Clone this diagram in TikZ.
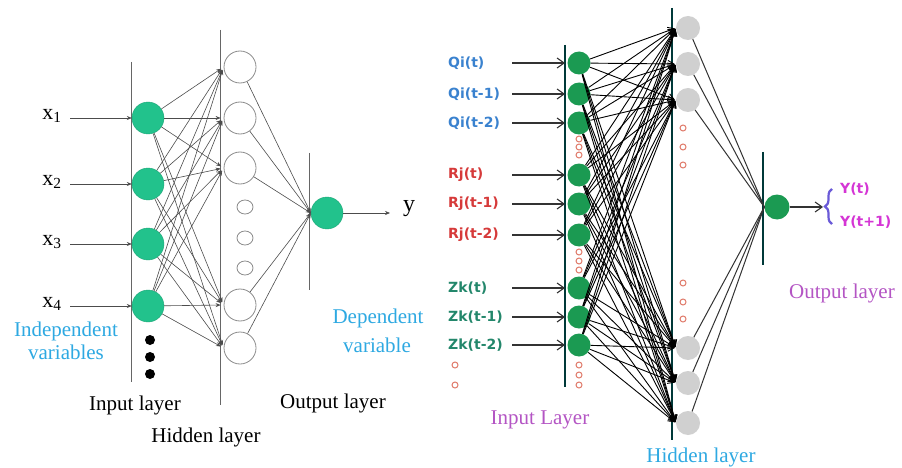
\documentclass[tikz,border=0pt]{standalone}
\usepackage{fontspec}
\setmainfont{Liberation Serif}
\newfontfamily\lblfont{DejaVu Sans}
\usetikzlibrary{arrows.meta,decorations.pathreplacing,shapes.geometric}
\definecolor{gL}{HTML}{22C28C}
\definecolor{gR}{HTML}{1B9A52}
\definecolor{hidR}{HTML}{D0D0D0}
\definecolor{cyanT}{HTML}{2EA9E2}
\definecolor{purT}{HTML}{B455C4}
\definecolor{blueT}{HTML}{3A82CF}
\definecolor{redT}{HTML}{D63A3A}
\definecolor{tealT}{HTML}{23876B}
\definecolor{magT}{HTML}{D535D5}
\definecolor{braceC}{HTML}{6A5AD8}
\definecolor{dotR}{HTML}{E07A6A}
\begin{document}
\begin{tikzpicture}[x=1pt,y=-1pt,
  ginL/.style={circle,fill=gL,draw=gL!85!black,line width=0.4pt,minimum size=32pt,inner sep=0pt},
  hidbig/.style={circle,draw=black!45,line width=0.8pt,minimum size=32pt,inner sep=0pt},
  hidsmall/.style={ellipse,draw=black!45,line width=0.8pt,minimum width=16pt,minimum height=14pt,inner sep=0pt},
  bdot/.style={circle,fill=black,minimum size=10pt,inner sep=0pt},
  layerline/.style={draw=black!60,line width=1pt},
  connL/.style={draw=black!70,line width=0.6pt,-{Stealth[length=5pt,width=4pt]}},
  lineL/.style={draw=black!70,line width=0.6pt},
  serifT/.style={font=\fontsize{21}{23}\selectfont,inner sep=0pt},
  ginR/.style={circle,fill=gR,minimum size=23pt,inner sep=0pt},
  hidnR/.style={circle,fill=hidR,minimum size=24pt,inner sep=0pt},
  rdot/.style={circle,draw=dotR,line width=1pt,minimum size=6pt,inner sep=0pt},
  connR/.style={draw=black,line width=0.9pt,-{Straight Barb[length=6pt,width=7pt]}},
  arrR/.style={draw=black!80,line width=1.1pt,-{Straight Barb[length=7pt,width=10pt]}},
  lineR/.style={draw=black!80,line width=1pt},
  lblT/.style={font=\lblfont\bfseries\fontsize{14}{16}\selectfont,anchor=west,inner sep=0pt},
  rlayer/.style={draw=black!55!teal,line width=1.3pt}
]
\useasboundingbox (0,0) rectangle (902,468);
\fill[white] (0,0) rectangle (902,468);

% ================= LEFT NETWORK =================
\draw[layerline] (131,62) -- (131,382);
\draw[layerline] (220,30) -- (220,405);
\draw[layerline] (309,153) -- (309,290);

\foreach \y [count=\i] in {118,184,244,306} {
  \node[ginL] (iL\i) at (148,\y) {};
  \node[serifT,font=\fontsize{22}{24}\selectfont] (xL\i) at (52,\y-2) {x\textsubscript{\i}};
  \coordinate (aL\i) at (70,\y);
  \draw[connL] (aL\i) -- (iL\i.west);
}
\foreach \y [count=\i] in {340,357,374} {
  \node[bdot] (dL\i) at (150,\y) {};
}
\foreach \y [count=\k] in {67,118,168,305,348} {
  \node[hidbig] (hL\k) at (240,\y) {};
}
\foreach \y [count=\k] in {207,238,268} {
  \node[hidsmall] (sL\k) at (245,\y) {};
}
\node[ginL] (oL) at (327,213) {};
\coordinate (yEnd) at (390,213);
\draw[lineL,-{Stealth[length=5pt,width=4pt]}] (oL) -- (yEnd);
\node[serifT,font=\fontsize{24}{26}\selectfont] (yL) at (409,209) {y};

\foreach \i in {1,...,4} {
  \foreach \k in {1,...,5} {
    \draw[connL,shorten >=3pt] (iL\i) -- (hL\k.west);
  }
}
\foreach \k in {1,...,5} {
  \draw[connL] (hL\k) -- (oL.west);
}

\node[serifT,text=cyanT] (indep1) at (66,331) {Independent};
\node[serifT,text=cyanT] (indep2) at (66,352) {variables};
\node[serifT] (inLab) at (135,405) {Input layer};
\node[serifT] (hidLab) at (206,437) {Hidden layer};
\node[serifT,text=cyanT] (dep1) at (378,318) {Dependent};
\node[serifT,text=cyanT] (dep2) at (377,345) {variable};
\node[serifT] (outLab) at (333,403) {Output layer};

% ================= RIGHT NETWORK =================
\draw[rlayer] (565,45) -- (565,387);
\draw[rlayer] (672,8) -- (672,440);
\draw[rlayer] (763,152) -- (763,265);

\foreach \y/\t/\c [count=\i] in {63/Qi(t)/blueT, 94/Qi(t-1)/blueT, 123/Qi(t-2)/blueT,
   175/Rj(t)/redT, 204/Rj(t-1)/redT, 235/Rj(t-2)/redT,
   288/Zk(t)/tealT, 317/Zk(t-1)/tealT, 345/Zk(t-2)/tealT} {
  \node[ginR] (iR\i) at (579,\y) {};
  \node[lblT,text=\c] (lR\i) at (448,\y) {\t};
  \coordinate (aR\i) at (512,\y);
  \draw[arrR] (aR\i) -- (565,\y);
}
\foreach \y [count=\k] in {28,64,100,348,383,423} {
  \node[hidnR] (hR\k) at (688,\y) {};
}
\foreach \x/\y [count=\j] in {579/139,579/147,579/155, 579/252,579/261,579/270,
   579/365,579/375,579/385, 455/365,455/385,
   683/128,683/147,683/165, 683/283,683/302,683/319} {
  \node[rdot] (rd\j) at (\x,\y) {};
}
\foreach \i in {1,...,9} {
  \foreach \k in {1,...,6} {
    \draw[connR,shorten >=1pt] (iR\i) -- (hR\k.west);
  }
}
\node[ginR,minimum width=25pt] (oR) at (777,207) {};
\foreach \k in {1,...,6} {
  \draw[lineR] (hR\k) -- (oR.west);
}
\coordinate (yRend) at (823,207);
\draw[arrR] (oR) -- (yRend);
\coordinate (brB) at (832,224);
\coordinate (brT) at (832,189);
\draw[braceC,line width=2.2pt,decorate,decoration={brace,amplitude=7pt}] (brB) -- (brT);
\node[font=\lblfont\bfseries\fontsize{14}{16}\selectfont,text=magT,anchor=west,inner sep=0pt] (yt) at (840,189) {Y(t)};
\node[font=\lblfont\bfseries\fontsize{14}{16}\selectfont,text=magT,anchor=west,inner sep=0pt] (yt1) at (840,222) {Y(t+1)};

\node[serifT,text=purT] (inLabR) at (540,420) {Input Layer};
\node[serifT,text=cyanT] (hidLabR) at (701,457) {Hidden layer};
\node[serifT,text=purT] (outLabR) at (842,293) {Output layer};
\end{tikzpicture}
\end{document}
